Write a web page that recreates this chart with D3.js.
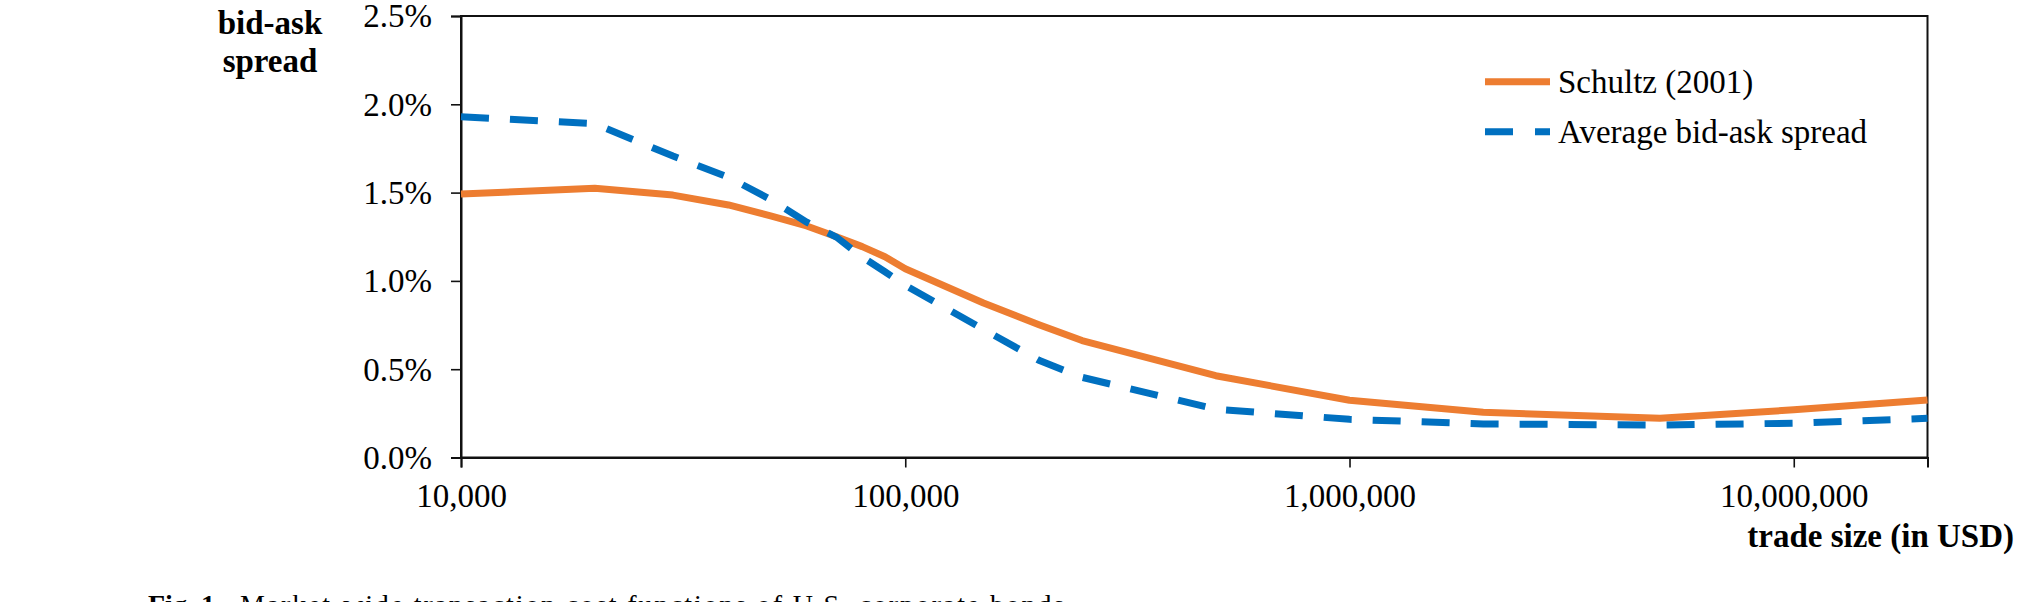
<!DOCTYPE html>
<html>
<head>
<meta charset="utf-8">
<script src="https://cdn.jsdelivr.net/npm/d3@7/dist/d3.min.js"></script>
<style>
  html, body { margin: 0; padding: 0; background: #fff; }
  svg { display: block; }
  text { font-family: "Liberation Serif", "Times New Roman", serif; fill: #000; }
</style>
</head>
<body>
<svg id="chart" width="2032" height="602"></svg>
<script>
// ---- data ----
const tradeSizes = [10000, 20000, 30000, 40000, 50000, 60000, 70000, 80000, 90000, 100000,
                    150000, 200000, 250000, 500000, 1000000, 2000000, 5000000, 10000000, 20000000];
const schultz = [1.492, 1.524, 1.486, 1.43, 1.367, 1.311, 1.25, 1.194, 1.137, 1.069,
                 0.875, 0.752, 0.662, 0.463, 0.324, 0.256, 0.222, 0.270, 0.326];
const averageSpread = [1.93, 1.89, 1.707, 1.587, 1.458, 1.333, 1.248, 1.135, 1.052, 0.975,
                       0.726, 0.55, 0.454, 0.274, 0.216, 0.19, 0.184, 0.194, 0.222];
const xTicks = [10000, 100000, 1000000, 10000000];
const yTicks = [0, 0.5, 1.0, 1.5, 2.0, 2.5];
const seriesNames = ["Schultz (2001)", "Average bid-ask spread"];

// ---- layout ----
const L = 461, R = 1927.5, T = 16, B = 457.5;
const orange = "#ED7D31", blue = "#0070C0";

const svg = d3.select("#chart");
const x = d3.scaleLog().domain([10000, 20000000]).range([L, R]);
const y = d3.scaleLinear().domain([0, 2.5]).range([B, T]);

// frame
svg.append("rect")
  .attr("x", L).attr("y", T).attr("width", R - L).attr("height", B - T)
  .attr("fill", "none").attr("stroke", "#111").attr("stroke-width", 2);

// y axis
const yAxis = svg.append("g").attr("transform", `translate(${L},0)`)
  .call(d3.axisLeft(y).tickValues(yTicks).tickSize(10).tickPadding(19)
        .tickFormat(d => d.toFixed(1) + "%"));
yAxis.select(".domain").attr("stroke", "#111").attr("stroke-width", 2);
yAxis.selectAll(".tick line").attr("stroke", "#111").attr("stroke-width", 1.6);
yAxis.selectAll(".tick text")
  .attr("font-family", "Liberation Serif").attr("font-size", 33).attr("dy", "0.33em");

// x axis
const xAxis = svg.append("g").attr("transform", `translate(0,${B})`)
  .call(d3.axisBottom(x).tickValues(xTicks).tickSize(10).tickFormat(d3.format(",")));
xAxis.select(".domain").attr("stroke", "#111").attr("stroke-width", 2);
xAxis.selectAll(".tick line").attr("stroke", "#111").attr("stroke-width", 1.6);
xAxis.selectAll(".tick text")
  .attr("font-family", "Liberation Serif").attr("font-size", 33)
  .attr("y", 49.5).attr("dy", null);

// lines
const line = vals => d3.line()
  .x((d, i) => x(tradeSizes[i]))
  .y(d => y(d))(vals);

svg.append("path").attr("d", line(schultz))
  .attr("fill", "none").attr("stroke", orange).attr("stroke-width", 7)
  .attr("stroke-linejoin", "round");

svg.append("path").attr("d", line(averageSpread))
  .attr("fill", "none").attr("stroke", blue).attr("stroke-width", 7)
  .attr("stroke-dasharray", "28,21");

// axis titles
const yt = svg.append("text").attr("font-weight", "bold").attr("font-size", 33)
  .attr("text-anchor", "middle");
yt.append("tspan").attr("x", 270).attr("y", 34).text("bid-ask");
yt.append("tspan").attr("x", 270).attr("y", 72).text("spread");

svg.append("text").attr("x", 2014).attr("y", 547)
  .attr("font-weight", "bold").attr("font-size", 33).attr("text-anchor", "end")
  .text("trade size (in USD)");

// legend
const legend = [
  { name: seriesNames[0], color: orange, dash: null, y: 81.7 },
  { name: seriesNames[1], color: blue, dash: "28,22", y: 131.7 }
];
legend.forEach(d => {
  svg.append("line").attr("x1", 1485).attr("x2", 1550).attr("y1", d.y).attr("y2", d.y)
    .attr("stroke", d.color).attr("stroke-width", 7)
    .attr("stroke-dasharray", d.dash);
  svg.append("text").attr("x", 1558).attr("y", d.y + 11.5)
    .attr("font-size", 33).text(d.name);
});

// caption (cut off at bottom of frame)
svg.append("text").attr("x", 148).attr("y", 614)
  .attr("font-size", 28).attr("font-weight", "bold").text("Fig. 1.");
svg.append("text").attr("x", 240).attr("y", 614)
  .attr("font-size", 28).attr("textLength", 833).attr("lengthAdjust", "spacing")
  .text("Market-wide transaction cost functions of U.S. corporate bonds.");
</script>
</body>
</html>
